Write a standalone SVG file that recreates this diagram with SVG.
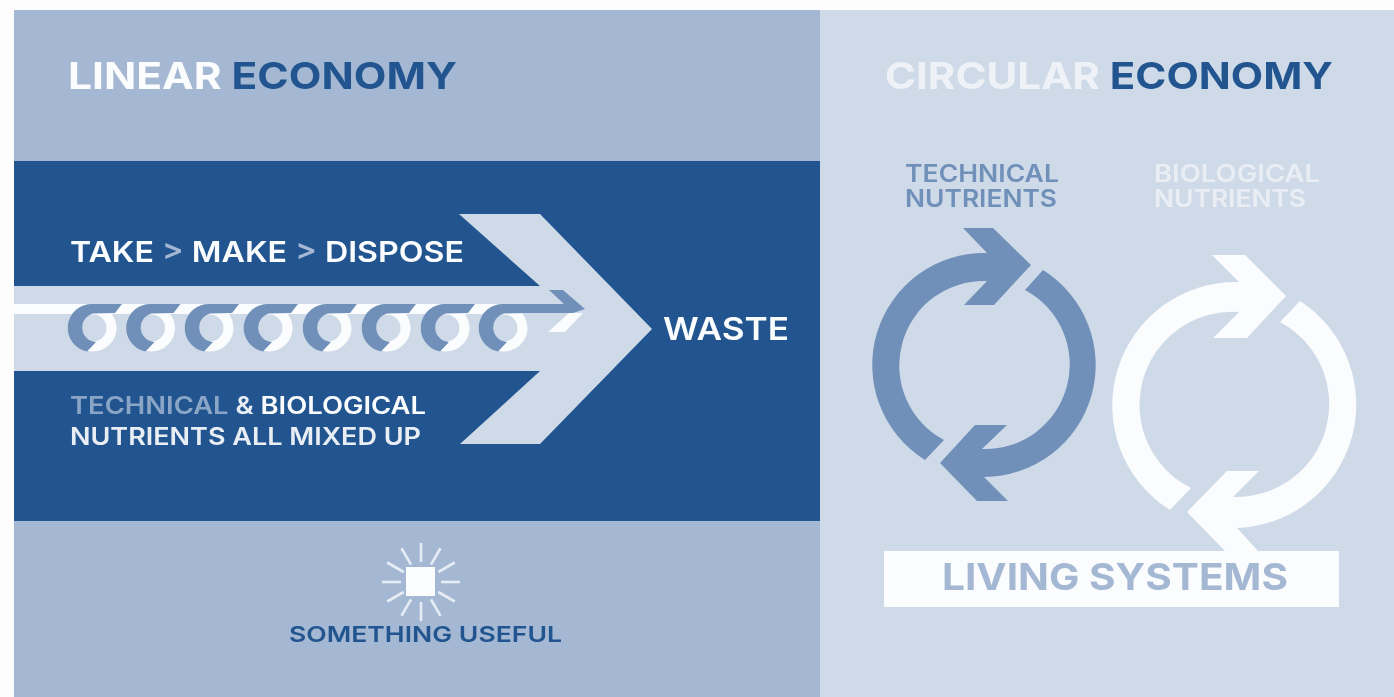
<svg xmlns="http://www.w3.org/2000/svg" width="1394" height="697" viewBox="0 0 1394 697">
<style>
text{font-family:"Inter","Liberation Sans",sans-serif;font-weight:600}
.h{font-size:37px;font-weight:650}
.m{font-size:24px}
.ls{font-size:37px;font-weight:700;fill:#a5b8d3}
.dk{fill:#20558f}.wh{fill:#fbfcfd}.lt{fill:#cfdae8}.bl{fill:#7090b9}
</style>
<defs>
<filter id="soft" x="0" y="0" width="100%" height="100%"><feGaussianBlur stdDeviation="0.7"/></filter>
<g id="ring">
<circle cx="0" cy="0" r="18.5" fill="none" stroke="#fbfcfd" stroke-width="10"/>
<path d="M-6,23.5 A24,24 0 0 1 0,-24 L29,-24 L22,-15 L0,-14.5 A14.5,14.5 0 0 0 3,14 Z" fill="#7090b9"/>
</g>
<line id="ray" x1="421" y1="562" x2="421" y2="543" stroke="#e6ecf4" stroke-width="2.6"/>
</defs>
<rect width="1394" height="697" fill="#fdfdfe"/>
<g filter="url(#soft)">
<g id="panels">
<rect x="14" y="10" width="806" height="687" fill="#a5b8d3"/>
<rect x="820" y="10" width="574" height="687" fill="#cfdae8"/>
<rect x="14" y="161" width="806" height="360" fill="#20558f"/>
</g>
<g id="linear-title"><text class="h wh" x="68" y="89" textLength="389" lengthAdjust="spacingAndGlyphs">LINEAR <tspan class="dk">ECONOMY</tspan></text></g>
<g id="circular-title"><text class="h" x="885" y="89" fill="#eef2f7" textLength="448" lengthAdjust="spacingAndGlyphs">CIRCULAR <tspan class="dk">ECONOMY</tspan></text></g>
<g id="linear-arrow">
<path class="lt" d="M14,286 L540,286 L459,214 L540,214 L652,329 L540,444 L460,444 L540,371 L14,371 Z"/>
<rect x="14" y="304" width="490" height="10" fill="#fbfcfd"/>
<use href="#ring" x="93" y="328"/>
<use href="#ring" x="151.5" y="328"/>
<use href="#ring" x="210" y="328"/>
<use href="#ring" x="269" y="328"/>
<use href="#ring" x="328" y="328"/>
<use href="#ring" x="387" y="328"/>
<use href="#ring" x="446" y="328"/>
<use href="#ring" x="504" y="328"/>
<path class="bl" d="M504,304 H564 L549,290 H563 L585,309 L573,313 H504 Z"/>
<path class="wh" d="M569,313 H583 L565,332 H548 Z"/>
</g>
<g id="take-make-dispose"><text class="wh" x="70" y="262" font-size="29" textLength="394" lengthAdjust="spacingAndGlyphs">TAKE <tspan fill="#a5b8d3">&gt;</tspan> MAKE <tspan fill="#a5b8d3">&gt;</tspan> DISPOSE</text></g>
<g id="mixed-label">
<text class="m" x="70" y="414" fill="#8ba5c7" textLength="356" lengthAdjust="spacingAndGlyphs">TECHNICAL <tspan fill="#e9eef5">&amp;</tspan> <tspan fill="#fbfcfd">BIOLOGICAL</tspan></text>
<text class="m" x="70" y="445" fill="#e9eef5" textLength="351" lengthAdjust="spacingAndGlyphs">NUTRIENTS ALL MIXED UP</text>
</g>
<g id="waste"><text class="wh" x="663" y="340" font-size="31" textLength="126" lengthAdjust="spacingAndGlyphs">WASTE</text></g>
<g id="something-useful">
<use href="#ray"/>
<use href="#ray" transform="rotate(30 421 582)"/>
<use href="#ray" transform="rotate(60 421 582)"/>
<use href="#ray" transform="rotate(90 421 582)"/>
<use href="#ray" transform="rotate(120 421 582)"/>
<use href="#ray" transform="rotate(150 421 582)"/>
<use href="#ray" transform="rotate(180 421 582)"/>
<use href="#ray" transform="rotate(210 421 582)"/>
<use href="#ray" transform="rotate(240 421 582)"/>
<use href="#ray" transform="rotate(270 421 582)"/>
<use href="#ray" transform="rotate(300 421 582)"/>
<use href="#ray" transform="rotate(330 421 582)"/>
<rect class="wh" x="406" y="567" width="29" height="29"/>
<text class="dk" x="289" y="642" font-size="22" textLength="273" lengthAdjust="spacingAndGlyphs">SOMETHING USEFUL</text>
</g>
<g id="technical-label">
<text class="m bl"><tspan x="905" y="182" textLength="154" lengthAdjust="spacingAndGlyphs">TECHNICAL</tspan><tspan x="905" y="207" textLength="152" lengthAdjust="spacingAndGlyphs">NUTRIENTS</tspan></text>
</g>
<g id="biological-label">
<text class="m" fill="#e9eef5"><tspan x="1154" y="182" textLength="166" lengthAdjust="spacingAndGlyphs">BIOLOGICAL</tspan><tspan x="1154" y="207" textLength="152" lengthAdjust="spacingAndGlyphs">NUTRIENTS</tspan></text>
</g>
<g id="technical-cycle" class="bl">
<path d="M963,228 L993,228 L1031,265 L994,305 L964,305 L987,281 A84.5,84.5 0 0 0 944,440 L925,460 A112,112 0 0 1 987,253 Z"/>
<path d="M1043,270 A112,112 0 0 1 984,477 L1008,501 L977,501 L940,463 L975,425 L1007,425 L982,449 A84.5,84.5 0 0 0 1025,290 Z"/>
</g>
<g id="biological-cycle" class="wh">
<path d="M1212,255 L1245,255 L1286,296 L1247,338 L1213,338 L1239,312 A93,93 0 0 0 1191,488 L1170,510 A123.5,123.5 0 0 1 1239,282 Z"/>
<path d="M1300,301 A123.5,123.5 0 0 1 1237,528 L1258,551 L1225,551 L1187,512 L1227,471 L1259,471 L1233,497 A93,93 0 0 0 1280,322 Z"/>
</g>
<g id="living-systems">
<rect class="wh" x="884" y="551" width="455" height="56"/>
<text class="ls" x="942" y="590" textLength="346" lengthAdjust="spacingAndGlyphs">LIVING SYSTEMS</text>
</g>
</g>
</svg>
